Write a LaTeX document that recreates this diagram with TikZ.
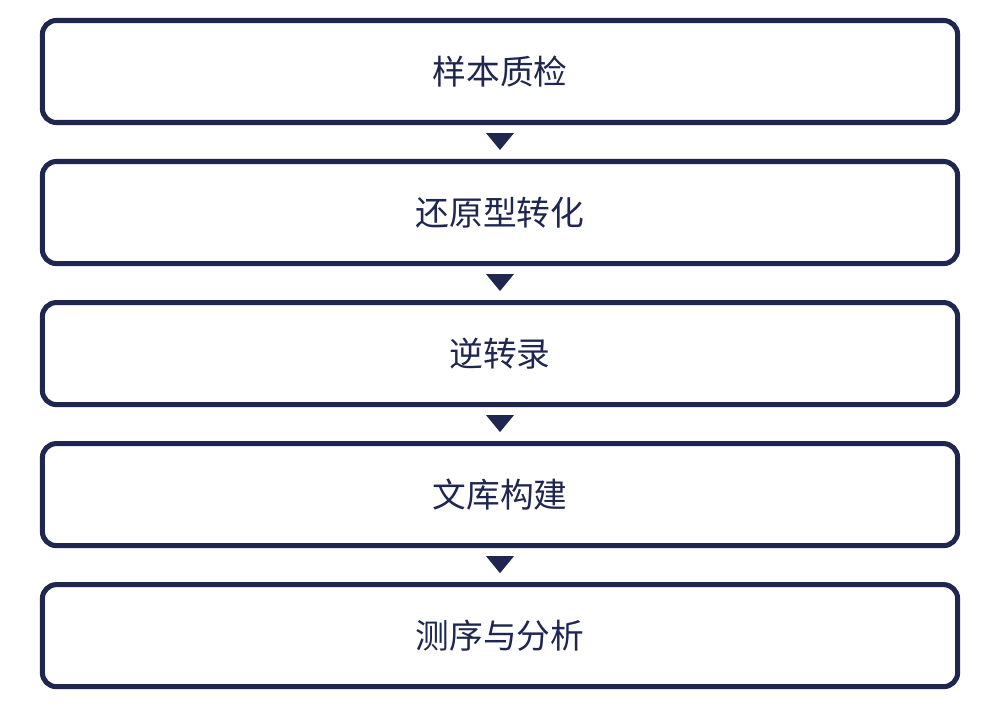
\documentclass[tikz,border=0pt]{standalone}
\usepackage{fontspec}
\newfontfamily\cjk{Noto Sans CJK SC}
\usepackage{tikz}
\usetikzlibrary{positioning}
\definecolor{navy}{HTML}{1F264F}

\begin{document}
\begin{tikzpicture}[x=0.025cm, y=0.025cm,
      stepbox/.style={draw=navy, line width=3.6pt, rounded corners=0.35cm,
        minimum width=22.875cm, minimum height=2.55cm, outer sep=0pt,
        font=\cjk\fontsize{24}{28}\selectfont, text=navy},
      node distance=0.975cm]
      \useasboundingbox (0,0) rectangle (1000,-708);
      \node[stepbox] (qc) at (500,-71.5) {样本质检};
      \node[stepbox, below=of qc] (conv) {还原型转化};
      \node[stepbox, below=of conv] (rt) {逆转录};
      \node[stepbox, below=of rt] (lib) {文库构建};
      \node[stepbox, below=of lib] (seq) {测序与分析};
      % triangles between the boxes
      \fill[navy] (qc.south) ++(-14,-10.5) -- ++(28,0) -- ++(-14,-17) -- cycle;
      \fill[navy] (conv.south) ++(-14,-10.5) -- ++(28,0) -- ++(-14,-17) -- cycle;
      \fill[navy] (rt.south) ++(-14,-10.5) -- ++(28,0) -- ++(-14,-17) -- cycle;
      \fill[navy] (lib.south) ++(-14,-10.5) -- ++(28,0) -- ++(-14,-17) -- cycle;
    \end{tikzpicture}
\end{document}
